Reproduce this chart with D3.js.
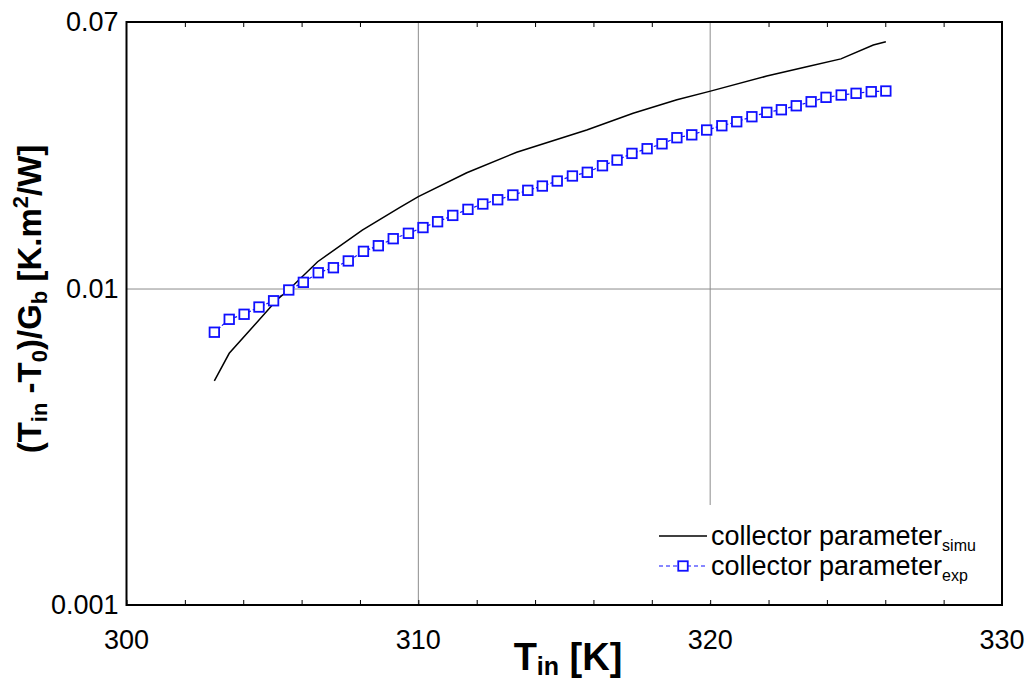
<!DOCTYPE html>
<html>
<head>
<meta charset="utf-8">
<script src="https://cdn.jsdelivr.net/npm/d3@7"></script>
<style>
	body { margin: 0; background: #fff; }
	svg { font-family: "Liberation Sans", Arial, sans-serif; }
</style>
</head>
<body>
<svg id="chart" width="1032" height="684"></svg>
<script>
var windowW = 1032;
var windowH = 684;

// simulated collector parameter (black line)
var simuT = [303.01, 303.52, 305.15, 305.55, 306.55, 308.08, 309.37, 310.0, 311.66, 313.37,
	315.77, 317.36, 318.86, 320.01, 321.94, 323.31, 324.48, 325.59, 326.02];
var simuV = [0.00512, 0.00626, 0.00923, 0.00993, 0.0122, 0.01537, 0.01814, 0.0196, 0.02334, 0.0271,
	0.03186, 0.0360, 0.0397, 0.0423, 0.0472, 0.0505, 0.0535, 0.0592, 0.0606];

// experimental collector parameter (blue squares)
var expT = [303.01, 303.52, 304.03, 304.54, 305.04, 305.56, 306.06, 306.57, 307.09, 307.60,
	308.12, 308.63, 309.14, 309.66, 310.16, 310.66, 311.18, 311.70, 312.21, 312.72,
	313.24, 313.75, 314.25, 314.76, 315.28, 315.79, 316.31, 316.81, 317.32, 317.84,
	318.35, 318.86, 319.37, 319.88, 320.40, 320.91, 321.43, 321.94, 322.44, 322.95,
	323.46, 323.97, 324.49, 325.00, 325.52, 326.02];
var expV = [0.00730, 0.00802, 0.00832, 0.00877, 0.00918, 0.00993, 0.0105, 0.01126, 0.01168, 0.01227,
	0.01316, 0.01371, 0.01443, 0.01501, 0.01565, 0.01633, 0.0171, 0.01787, 0.01858, 0.01917,
	0.01984, 0.02053, 0.02118, 0.02197, 0.02279, 0.02341, 0.02456, 0.02559, 0.02687, 0.0278,
	0.02881, 0.03012, 0.03076, 0.03186, 0.03287, 0.03384, 0.0351, 0.03624, 0.03693, 0.03802,
	0.03915, 0.04043, 0.04111, 0.04163, 0.04212, 0.04233];

var xTicks = [300, 310, 320, 330];
var xMinorTicks = [302, 304, 306, 308, 312, 314, 316, 318, 322, 324, 326, 328];
var yTicks = [0.001, 0.01, 0.07];
var yTickLabels = ["0.001", "0.01", "0.07"];
var legendNames = ["collector parameter", "collector parameter"];
var legendSubs = ["simu", "exp"];

var plotL = 126.5, plotR = 1002, plotT = 22, plotB = 605;
var expColor = "#1010ff";
var gridColor = "#8c8c8c";

var svg = d3.select("#chart");

var x = d3.scaleLinear().domain([300, 330]).range([plotL, plotR]);
var y = d3.scaleLog().domain([0.001, 0.07]).range([plotB, plotT]);

//////// grid
var grid = svg.append("g");
grid.selectAll(".vgrid")
	.data([310, 320])
	.enter().append("line")
	.attr("x1", d => x(d)).attr("x2", d => x(d))
	.attr("y1", plotT).attr("y2", plotB)
	.attr("stroke", gridColor).attr("stroke-width", 1);
grid.append("line")
	.attr("x1", plotL).attr("x2", plotR)
	.attr("y1", y(0.01)).attr("y2", y(0.01))
	.attr("stroke", gridColor).attr("stroke-width", 1);

//////// data
var simuData = simuT.map((t, i) => ({t: t, v: simuV[i]}));
var expData = expT.map((t, i) => ({t: t, v: expV[i]}));

var line = d3.line().x(d => x(d.t)).y(d => y(d.v));

svg.append("path")
	.datum(expData)
	.attr("d", line)
	.attr("fill", "none")
	.attr("stroke", expColor)
	.attr("stroke-width", 1.2)
	.attr("stroke-dasharray", "3,2");

svg.append("path")
	.datum(simuData)
	.attr("d", line)
	.attr("fill", "none")
	.attr("stroke", "#000")
	.attr("stroke-width", 1.5);

svg.selectAll(".sq")
	.data(expData)
	.enter().append("rect")
	.attr("x", d => x(d.t) - 4.75)
	.attr("y", d => y(d.v) - 4.75)
	.attr("width", 9.5).attr("height", 9.5)
	.attr("fill", "#fff")
	.attr("stroke", expColor)
	.attr("stroke-width", 1.8);

//////// legend (white box hides the grid)
var leg = svg.append("g");
leg.append("rect")
	.attr("x", 650).attr("y", 505)
	.attr("width", plotR - 652).attr("height", plotB - 507)
	.attr("fill", "#fff");

var rowY = [536, 566];
leg.append("line")
	.attr("x1", 659).attr("x2", 707)
	.attr("y1", rowY[0]).attr("y2", rowY[0])
	.attr("stroke", "#000").attr("stroke-width", 1.5);
leg.append("line")
	.attr("x1", 659).attr("x2", 707)
	.attr("y1", rowY[1]).attr("y2", rowY[1])
	.attr("stroke", expColor).attr("stroke-width", 1.2)
	.attr("stroke-dasharray", "4,3");
leg.append("rect")
	.attr("x", 683 - 4.75).attr("y", rowY[1] - 4.75)
	.attr("width", 9.5).attr("height", 9.5)
	.attr("fill", "#fff").attr("stroke", expColor).attr("stroke-width", 1.8);

legendNames.forEach(function(name, i) {
	var t = leg.append("text")
		.attr("x", 711)
		.attr("y", rowY[i] + 9)
		.attr("font-size", 27)
		.attr("fill", "#000");
	t.append("tspan").text(name);
	t.append("tspan").attr("dy", 6).attr("font-size", 16).text(legendSubs[i]);
});

//////// axes
var frame = svg.append("g");

var xAxisB = d3.axisBottom(x).tickValues(xMinorTicks.concat(xTicks)).tickSize(-5).tickFormat("");
frame.append("g").attr("transform", "translate(0," + plotB + ")").call(xAxisB);
var xAxisT = d3.axisTop(x).tickValues(xMinorTicks).tickSize(-5).tickFormat("");
frame.append("g").attr("transform", "translate(0," + plotT + ")").call(xAxisT);
frame.selectAll(".domain").remove();
frame.selectAll(".tick line").attr("stroke", "#000").attr("stroke-width", 1);

frame.append("rect")
	.attr("x", plotL).attr("y", plotT)
	.attr("width", plotR - plotL).attr("height", plotB - plotT)
	.attr("fill", "none").attr("stroke", "#000").attr("stroke-width", 2);

svg.selectAll(".xlab")
	.data(xTicks)
	.enter().append("text")
	.attr("x", d => x(d))
	.attr("y", plotB + 44)
	.attr("text-anchor", "middle")
	.attr("font-size", 27)
	.text(d => d);

svg.selectAll(".ylab")
	.data(yTicks)
	.enter().append("text")
	.attr("x", plotL - 8)
	.attr("y", d => y(d) + 9)
	.attr("text-anchor", "end")
	.attr("font-size", 27)
	.text((d, i) => yTickLabels[i]);

//////// titles
var xt = svg.append("text")
	.attr("x", 568)
	.attr("y", 670)
	.attr("text-anchor", "middle")
	.attr("font-size", 38)
	.attr("font-weight", "bold");
xt.append("tspan").text("T");
xt.append("tspan").attr("dy", 5).attr("font-size", 25).text("in");
xt.append("tspan").attr("dy", -5).text(" [K]");

var yt = svg.append("text")
	.attr("transform", "translate(41,299) rotate(-90)")
	.attr("text-anchor", "middle")
	.attr("font-size", 33)
	.attr("font-weight", "bold");
yt.append("tspan").text("(T");
yt.append("tspan").attr("dy", 6).attr("font-size", 22).text("in");
yt.append("tspan").attr("dy", -6).text(" -T");
yt.append("tspan").attr("dy", 6).attr("font-size", 22).text("0");
yt.append("tspan").attr("dy", -6).text(")/G");
yt.append("tspan").attr("dy", 6).attr("font-size", 22).text("b");
yt.append("tspan").attr("dy", -6).text(" [K.m");
yt.append("tspan").attr("dy", -13).attr("font-size", 22).text("2");
yt.append("tspan").attr("dy", 13).text("/W]");
</script>
</body>
</html>
